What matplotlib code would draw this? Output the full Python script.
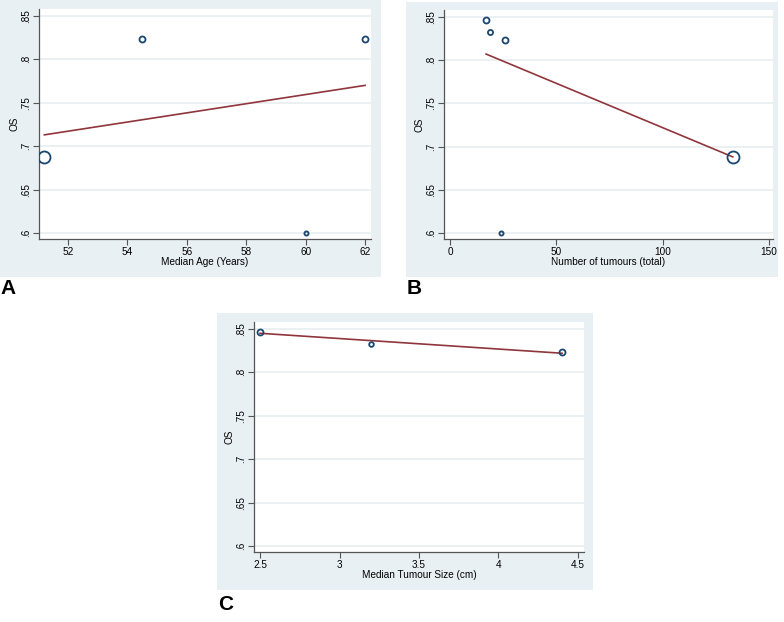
import matplotlib
matplotlib.use('Agg')
import matplotlib.pyplot as plt
from matplotlib.patches import Rectangle
import numpy as np

plt.rcParams['font.family'] = ['Liberation Sans', 'DejaVu Sans']

# Panel A: median age vs OS
age = [51.2, 54.5, 60.0, 62.0]
age_os = [0.688, 0.823, 0.600, 0.823]
age_w = [100, 25, 12, 25]
age_fit_x = [51.2, 62.0]
age_fit_y = [0.713, 0.770]

# Panel B: number of tumours vs OS
tumours = [17, 19, 26, 24, 133]
tumours_os = [0.846, 0.833, 0.823, 0.600, 0.688]
tumours_w = [25, 18, 25, 12, 100]
tum_fit_x = [17, 133]
tum_fit_y = [0.807, 0.688]

# Panel C: median tumour size vs OS
size = [2.5, 3.2, 4.4]
size_os = [0.846, 0.833, 0.823]
size_w = [25, 15, 25]
size_fit_x = [2.5, 4.4]
size_fit_y = [0.845, 0.822]

os_ticks = [0.6, 0.65, 0.7, 0.75, 0.8, 0.85]
os_labels = ['.6', '.65', '.7', '.75', '.8', '.85']

W, H = 784, 622
BG = '#E9F0F3'
NAVY = '#1A476F'
MAROON = '#90353B'
FS = 7.2

fig = plt.figure(figsize=(W / 100, H / 100), dpi=100)
fig.patch.set_facecolor('white')


def px_rect(x0, y0, x1, y1):
    return [x0 / W, 1 - y1 / H, (x1 - x0) / W, (y1 - y0) / H]


def panel(bg, plot, x, y, w, fx, fy, xlim, xticks, xlabels, xlabel, letter, letter_xy):
    b = px_rect(*bg)
    fig.patches.append(Rectangle((b[0], b[1]), b[2], b[3], transform=fig.transFigure,
                                 facecolor=BG, edgecolor='none', zorder=-5))
    ax = fig.add_axes(px_rect(*plot))
    ax.set_facecolor('white')
    for yv in os_ticks:
        ax.axhline(yv, color='#E8EEF1', lw=1.2, zorder=1)
    ax.plot(fx, fy, color=MAROON, lw=1.2, zorder=2)
    sizes = 1.2 * np.sqrt(w) * 0.72
    for xi, yi, si in zip(x, y, sizes):
        ax.plot(xi, yi, 'o', ms=si, mfc='none', mec=NAVY, mew=1.3, zorder=3)
    ax.set_xlim(*xlim)
    ax.set_ylim(0.593, 0.858)
    ax.set_yticks(os_ticks)
    ax.set_yticklabels(os_labels, rotation=90, va='center')
    ax.set_xticks(xticks)
    ax.set_xticklabels(xlabels)
    ax.tick_params(labelsize=FS, length=4, width=0.8, color='#555555', pad=2)
    for s in ['top', 'right']:
        ax.spines[s].set_visible(False)
    for s in ['left', 'bottom']:
        ax.spines[s].set_color('#555555')
        ax.spines[s].set_linewidth(0.9)
    ax.set_xlabel(xlabel, fontsize=FS, labelpad=0)
    ax.set_ylabel('OS', fontsize=FS, labelpad=0.5)
    fig.text(letter_xy[0] / W, 1 - letter_xy[1] / H, letter, fontsize=15,
             fontweight='bold', ha='left', va='center')
    return ax


panel((0, 0, 381, 277), (39, 9, 371, 239), age, age_os, age_w, age_fit_x, age_fit_y,
      (51.02, 62.2), [52, 54, 56, 58, 60, 62], ['52', '54', '56', '58', '60', '62'],
      'Median Age (Years)', 'A', (0, 289))

panel((406, 2, 778, 277), (444, 10, 773, 239), tumours, tumours_os, tumours_w,
      tum_fit_x, tum_fit_y, (-2.8, 151.9), [0, 50, 100, 150], ['0', '50', '100', '150'],
      'Number of tumours (total)', 'B', (407, 289))

panel((217, 313, 593, 590), (254, 322, 584, 552), size, size_os, size_w,
      size_fit_x, size_fit_y, (2.462, 4.538), [2.5, 3, 3.5, 4, 4.5],
      ['2.5', '3', '3.5', '4', '4.5'], 'Median Tumour Size (cm)', 'C', (218, 604))

fig.savefig('out.png', dpi=100)
